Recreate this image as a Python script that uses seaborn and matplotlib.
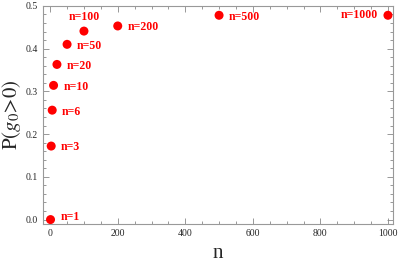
import matplotlib
matplotlib.use("Agg")
import matplotlib.pyplot as plt
import seaborn as sns
from matplotlib.ticker import MultipleLocator, FormatStrFormatter

n_vals = [1, 3, 6, 10, 20, 50, 100, 200, 500, 1000]
p_vals = [0.0, 0.172, 0.256, 0.314, 0.363, 0.410, 0.441, 0.453, 0.478, 0.478]
labels = ["n=1", "n=3", "n=6", "n=10", "n=20", "n=50", "n=100", "n=200", "n=500", "n=1000"]

sns.set_style("ticks")
plt.rcParams['font.family'] = ['Liberation Serif', 'DejaVu Serif']
plt.rcParams['mathtext.fontset'] = 'stix'

fig, ax = plt.subplots(figsize=(3.99, 2.67), dpi=100)
sns.scatterplot(x=n_vals, y=p_vals, color='#ff0000', s=42, edgecolor='none', ax=ax, zorder=3)

# label placement (offset points, alignment)
for x, y, lab in zip(n_vals, p_vals, labels):
    if lab == "n=100":
        dx, dy, ha = 0, 10, 'center'
    elif lab == "n=1000":
        dx, dy, ha = -7, 0, 'right'
    elif lab == "n=1":
        dx, dy, ha = 7, 2, 'left'
    else:
        dx, dy, ha = 7, -1, 'left'
    ax.annotate(lab, (x, y), xytext=(dx, dy), textcoords='offset points',
                color='#ff0000', fontsize=8.5, fontweight='bold', ha=ha, va='center')

ax.set_xlim(-21, 1015)
ax.set_ylim(-0.011, 0.5)
ax.xaxis.set_major_locator(MultipleLocator(200))
ax.xaxis.set_minor_locator(MultipleLocator(50))
ax.yaxis.set_major_locator(MultipleLocator(0.1))
ax.yaxis.set_minor_locator(MultipleLocator(0.02))
ax.yaxis.set_major_formatter(FormatStrFormatter('%.1f'))
ax.tick_params(which='both', direction='in', top=True, right=True, labelsize=7, color='#888888', width=0.6)
ax.tick_params(which='major', length=4)
ax.tick_params(which='minor', length=2)
for sp in ax.spines.values():
    sp.set_color('#999999')
    sp.set_linewidth(0.8)

ax.set_xlabel('n', fontsize=15)
ax.set_ylabel(r'$\mathrm{P}(g_0\!>\!0)$', fontsize=15, labelpad=2)

fig.subplots_adjust(left=0.108, right=0.985, top=0.978, bottom=0.16)
fig.savefig('out.png', dpi=100)
